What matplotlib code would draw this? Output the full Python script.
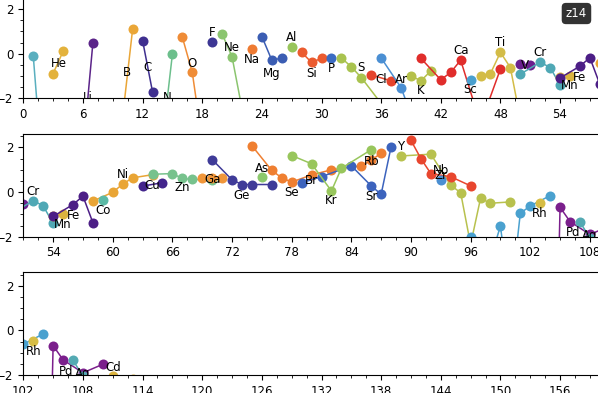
import matplotlib
matplotlib.use("Agg")
import matplotlib.pyplot as plt
from matplotlib.ticker import MultipleLocator

# groups of points, each drawn as one connected line with markers
group_x = [
    [1, 2], [3, 4], [6, 7], [10, 11], [12, 13], [14, 15], [16, 17, 18], [19],
    [20, 21, 22], [23], [24, 25, 26], [27], [28, 29, 30], [31], [32, 33, 34, 37],
    [35, 37], [36, 38, 40], [39, 40, 41], [40, 42, 43, 44, 46, 48], [45],
    [46, 47, 48, 49, 50], [50, 51], [50, 52, 53, 54], [54, 55], [54, 56, 57, 58],
    [58, 60, 61, 62, 64], [59], [63, 65], [64, 66, 67, 68, 70], [69, 70, 71],
    [70, 72, 73, 74, 76], [74, 76, 77, 78, 80, 82, 85, 86, 87], [75],
    [79, 81, 84, 86, 87, 88], [78, 80, 82, 83, 86],
    [89, 92, 94, 95, 96, 97, 98, 100], [90, 91, 92, 94, 96], [93],
    [96, 98, 99, 100, 101, 102, 104], [103], [104, 105, 106, 108, 110],
    [107, 108], [111, 113],
]
group_y = [
    [-0.09, -5.7], [-0.89, 0.10], [-4.4, 0.48], [-2.8, 1.11], [0.59, -1.71],
    [-3.9, -0.02], [0.74, -0.84, -3.95], [0.51], [0.89, -0.14, -2.46], [0.21],
    [0.77, -0.29, -0.20], [0.29], [0.06, -0.39, -0.21], [-0.19],
    [-0.19, -0.59, -1.07, -2.81], [-0.95, -1.22], [-0.19, -1.52, -3.9],
    [-0.99, -1.22, -0.77], [-0.21, -1.17, -0.84, -0.29, -3.15, -0.69], [-1.17],
    [-0.99, -0.89, 0.06, -0.62, -2.92], [-0.47, -0.52], [-0.92, -0.38, -0.62, -1.40],
    [-1.05, -0.99], [-1.09, -0.56, -0.18, -1.37], [-0.40, -0.01, 0.36, 0.64, 0.78],
    [-0.36], [0.27, 0.42], [0.80, 0.83, 0.61, 0.57, 0.55], [0.64, 0.62, 0.64],
    [1.46, 0.55, 0.34, 0.34, 0.34], [2.08, 0.97, 0.64, 0.45, 0.77, 1.0, 1.18, 1.42, 1.75],
    [0.67], [0.42, 0.69, 1.18, 0.28, -0.10, 2.03], [1.64, 1.27, 0.05, 1.07, 1.9],
    [1.62, 1.70, 0.31, -0.03, -2.35, -0.28, -0.50, -0.44], [2.32, 1.50, 0.83, 0.69, 0.28],
    [0.54], [-2.0, -3.0, -1.52, -5.0, -0.95, -0.62, -0.16], [-0.47],
    [-20.0, -0.68, -1.32, -1.9, -1.52], [-1.34, -2.05], [-2.05, -2.2],
]
group_colors = [
    "#5aafbf", "#e3b23c", "#5b2489", "#eaa637", "#3f2f8f", "#6cbf8c", "#ef8c37", "#3d3794",
    "#8bc56f", "#ee7b33", "#3b5db3", "#98c55b", "#eb5b2f", "#3b6cc2", "#a9c34f",
    "#e5432c", "#4b8fd3", "#b5c04b", "#e02d2b", "#4aa0cf",
    "#d3bc47", "#6a1f8e", "#4fa8b5", "#dab440", "#4c1e86",
    "#e9a535", "#5bb9a5", "#43258c", "#77c28d", "#f0963a",
    "#3f3b98", "#ef7f31", "#8cc96c",
    "#3c63bd", "#98c65c",
    "#b8c14e", "#e8462e", "#4a8fd2",
    "#4aa1cf", "#d6bd45", "#7b1f8c",
    "#54aab3", "#dcb440",
]

label_names = ["He", "Li", "B", "C", "N", "O", "F", "Ne", "Na", "Mg", "Al", "Si", "P",
               "S", "Cl", "Ar", "K", "Ca", "Sc", "Ti", "V", "Cr", "Mn", "Fe", "Co",
               "Ni", "Cu", "Zn", "Ga", "Ge", "As", "Se", "Br", "Kr", "Rb", "Sr", "Y",
               "Zr", "Nb", "Rh", "Pd", "Ag", "Cd"]
label_x = [3.6, 6.5, 10.4, 12.5, 14.5, 17, 19, 21, 23, 25, 27, 29, 31,
           34, 36, 38, 40, 44, 45, 48, 50.5, 52, 55, 56, 59,
           61, 64, 67, 70, 73, 75, 78, 80, 82, 86, 86, 89,
           93, 93, 103, 106.3, 108, 111]
label_y = [-0.42, -1.97, -0.84, -0.62, -1.97, -0.42, 0.93, 0.29, -0.27, -0.89, 0.71, -0.87, -0.65,
           -0.6, -1.14, -1.17, -1.64, 0.14, -1.59, 0.48, -0.54, 0.04, -1.44, -1.05, -0.83,
           0.79, 0.31, 0.2, 0.58, -0.15, 1.04, 0.0, 0.52, -0.37, 1.35, -0.2, 2.03,
           0.75, 0.98, -0.96, -1.83, -1.93, -1.67]

row_starts = [0, 51, 102]
row_span = 60
row_bottoms = [0.7499, 0.3977, 0.0458]

fig = plt.figure(figsize=(5.98, 3.93), dpi=100)

for x0, bottom in zip(row_starts, row_bottoms):
    ax = fig.add_axes([23.3 / 598, bottom, row_span * 9.94 / 598, 102.6 / 393])
    for xs, ys, c in zip(group_x, group_y, group_colors):
        ax.plot(xs, ys, color=c, lw=1.1, marker="o", markersize=7.2,
                markeredgewidth=0)
    for name, lx, ly in zip(label_names, label_x, label_y):
        if x0 <= lx <= x0 + row_span:
            ax.text(lx, ly, name, ha="center", va="center", fontsize=8.5,
                    clip_on=True)
    ax.set_xlim(x0, x0 + row_span)
    ax.set_ylim(-2, 2.6)
    ax.xaxis.set_major_locator(MultipleLocator(6))
    ax.xaxis.set_minor_locator(MultipleLocator(1.5))
    ax.yaxis.set_major_locator(MultipleLocator(2))
    ax.yaxis.set_minor_locator(MultipleLocator(0.5))
    ax.tick_params(labelsize=8.5)

fig.text(0.964, 0.9656, "z14", color="white", fontsize=8.5, ha="center", va="center",
         bbox=dict(boxstyle="round,pad=0.35", fc="#333333", ec="none"))

fig.savefig("out.png", dpi=100)
